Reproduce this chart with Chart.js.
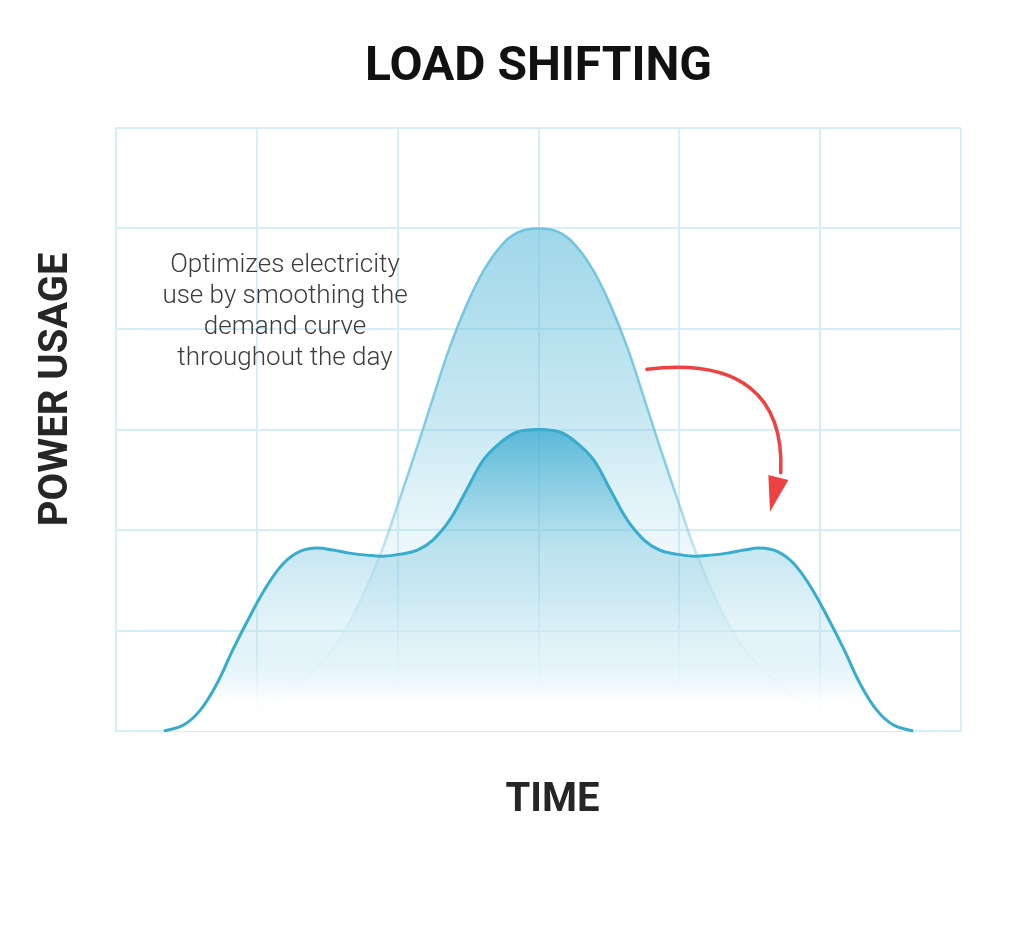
<!DOCTYPE html>
<html>
<head>
<meta charset="utf-8">
<script src="https://cdn.jsdelivr.net/npm/chart.js@4.4.1/dist/chart.umd.min.js"></script>
<style>
  html, body { margin: 0; padding: 0; background: #ffffff; }
  #wrap { width: 1024px; height: 932px; position: relative; }
  canvas { display: block; }
</style>
</head>
<body>
<div id="wrap"><canvas id="chart" width="1024" height="932"></canvas></div>
<script>
// ---------------- DATA ----------------
const titleText = 'LOAD SHIFTING';
const xAxisLabel = 'TIME';
const yAxisLabel = 'POWER USAGE';

// Time positions (grid units, 0..6) and power usage (grid units, 0..6)
const timeBefore = [0.35, 0.79, 1.14, 1.43, 1.64, 1.86, 2.00, 2.16, 2.25, 2.37, 2.49, 2.61, 2.73, 2.85, 3.00,
                    3.15, 3.27, 3.39, 3.51, 3.63, 3.75, 3.84, 4.00, 4.14, 4.36, 4.57, 4.86, 5.21, 5.65];
const usageBefore = [0.00, 0.08, 0.31, 0.64, 1.04, 1.70, 2.25, 2.92, 3.31, 3.82, 4.24, 4.58, 4.82, 4.96, 5.00,
                     4.96, 4.82, 4.58, 4.24, 3.82, 3.31, 2.92, 2.25, 1.70, 1.04, 0.64, 0.31, 0.08, 0.00];

const timeAfter = [0.34, 0.48, 0.60, 0.72, 0.83, 0.95, 1.07, 1.19, 1.31, 1.43, 1.54, 1.66, 1.78, 1.90, 2.02, 2.14,
                   2.25, 2.37, 2.49, 2.61, 2.73, 2.85, 3.00,
                   3.15, 3.27, 3.39, 3.51, 3.63, 3.75, 3.86, 3.98, 4.10, 4.22, 4.34, 4.46, 4.57, 4.69, 4.81,
                   4.93, 5.05, 5.17, 5.28, 5.40, 5.52, 5.66];
const usageAfter = [0.00, 0.06, 0.21, 0.48, 0.81, 1.14, 1.44, 1.67, 1.79, 1.82, 1.80, 1.77, 1.75, 1.74, 1.76, 1.80,
                    1.90, 2.10, 2.40, 2.70, 2.87, 2.975, 3.00,
                    2.975, 2.87, 2.70, 2.40, 2.10, 1.90, 1.80, 1.76, 1.74, 1.75, 1.77, 1.80, 1.82, 1.79, 1.67,
                    1.44, 1.14, 0.81, 0.48, 0.21, 0.06, 0.00];

const gridTicks = [0, 1, 2, 3, 4, 5, 6];

const noteLines = ['Optimizes electricity', 'use by smoothing the', 'demand curve', 'throughout the day'];
const notePos = [1.20, 4.63];          // centre of first line, in data units
const arrowCurve = [[3.77, 3.60], [4.43, 3.71], [4.745, 3.34], [4.72, 2.57]];   // cubic bezier, data units
const arrowHead = [[4.632, 2.547], [4.774, 2.498], [4.644, 2.182]];            // triangle, data units

// ---------------- STYLE ----------------
const gridColor = '#d6eef5';
const darkLine = '#37accd';
const lightLine = 'rgba(112,196,222,1)';
const arrowColor = '#ee4242';

function toXY(xs, ys) { return xs.map((v, i) => ({ x: v, y: ys[i] })); }

function lightFillGrad(ctx) {
  const chart = ctx.chart;
  if (!chart.chartArea) return 'rgba(0,0,0,0)';
  const y = chart.scales.y;
  const g = chart.ctx.createLinearGradient(0, y.getPixelForValue(5), 0, y.getPixelForValue(0));
  g.addColorStop(0, 'rgba(110,195,222,0.66)');
  g.addColorStop(0.4, 'rgba(110,195,222,0.36)');
  g.addColorStop(0.65, 'rgba(150,212,232,0.16)');
  g.addColorStop(0.85, 'rgba(255,255,255,0.6)');
  g.addColorStop(1, 'rgba(255,255,255,1)');
  return g;
}
function darkFillGrad(ctx) {
  const chart = ctx.chart;
  if (!chart.chartArea) return 'rgba(0,0,0,0)';
  const y = chart.scales.y;
  const g = chart.ctx.createLinearGradient(0, y.getPixelForValue(3), 0, y.getPixelForValue(0));
  g.addColorStop(0, 'rgba(60,170,208,0.78)');
  g.addColorStop(0.33, 'rgba(90,185,216,0.40)');
  g.addColorStop(0.67, 'rgba(170,220,236,0.30)');
  g.addColorStop(0.9, 'rgba(255,255,255,0.9)');
  g.addColorStop(1, 'rgba(255,255,255,1)');
  return g;
}
function lightLineGrad(ctx) {
  const chart = ctx.chart;
  if (!chart.chartArea) return lightLine;
  const y = chart.scales.y;
  const g = chart.ctx.createLinearGradient(0, y.getPixelForValue(5), 0, y.getPixelForValue(0));
  g.addColorStop(0, 'rgba(112,196,222,1)');
  g.addColorStop(0.5, 'rgba(112,196,222,0.8)');
  g.addColorStop(0.7, 'rgba(150,210,230,0.35)');
  g.addColorStop(1, 'rgba(220,240,247,0.0)');
  return g;
}

const overlay = {
  id: 'overlay',
  afterDatasetsDraw(chart) {
    const { ctx, chartArea, scales: { x, y } } = chart;
    ctx.save();
    // annotation
    ctx.font = '300 26px Roboto';
    ctx.fillStyle = '#3b3b3b';
    ctx.textAlign = 'center';
    ctx.textBaseline = 'middle';
    const nx = x.getPixelForValue(notePos[0]);
    const ny = y.getPixelForValue(notePos[1]);
    noteLines.forEach((t, i) => ctx.fillText(t, nx, ny + i * 31));

    // arrow
    const P = arrowCurve.map(p => [x.getPixelForValue(p[0]), y.getPixelForValue(p[1])]);
    ctx.strokeStyle = arrowColor;
    ctx.lineWidth = 3.5;
    ctx.lineCap = 'round';
    ctx.beginPath();
    ctx.moveTo(P[0][0], P[0][1]);
    ctx.bezierCurveTo(P[1][0], P[1][1], P[2][0], P[2][1], P[3][0], P[3][1]);
    ctx.stroke();
    const H = arrowHead.map(p => [x.getPixelForValue(p[0]), y.getPixelForValue(p[1])]);
    ctx.fillStyle = arrowColor;
    ctx.beginPath();
    ctx.moveTo(H[0][0], H[0][1]);
    ctx.lineTo(H[1][0], H[1][1]);
    ctx.lineTo(H[2][0], H[2][1]);
    ctx.closePath();
    ctx.fill();

    // axis labels
    ctx.fillStyle = '#262626';
    ctx.font = '700 40px Roboto';
    ctx.textAlign = 'center';
    ctx.textBaseline = 'middle';
    ctx.fillText(xAxisLabel, (chartArea.left + chartArea.right) / 2 + 14, chartArea.bottom + 70);
    ctx.translate(chartArea.left - 59, y.getPixelForValue(3.4));
    ctx.rotate(-Math.PI / 2);
    ctx.fillText(yAxisLabel, 0, 0);
    ctx.restore();
  }
};

const curveOpts = { pointRadius: 0, tension: 0.4, cubicInterpolationMode: 'default' };

new Chart(document.getElementById('chart'), {
  type: 'line',
  data: {
    datasets: [
      Object.assign({ label: 'After (line)', data: toXY(timeAfter, usageAfter), borderColor: darkLine, borderWidth: 3,
        fill: false, clip: false, order: 0 }, curveOpts),
      Object.assign({ label: 'Before (line)', data: toXY(timeBefore, usageBefore), borderColor: lightLineGrad, borderWidth: 2.5,
        fill: false, clip: false, order: 1 }, curveOpts),
      Object.assign({ label: 'After (area)', data: toXY(timeAfter, usageAfter), borderWidth: 0, borderColor: 'rgba(0,0,0,0)',
        backgroundColor: darkFillGrad, fill: 'origin', order: 2 }, curveOpts),
      Object.assign({ label: 'Before (area)', data: toXY(timeBefore, usageBefore), borderWidth: 0, borderColor: 'rgba(0,0,0,0)',
        backgroundColor: lightFillGrad, fill: 'origin', order: 3 }, curveOpts)
    ]
  },
  options: {
    responsive: false,
    devicePixelRatio: 1,
    animation: false,
    events: [],
    layout: { padding: { left: 116, right: 63, top: 0, bottom: 201 } },
    plugins: {
      legend: { display: false },
      tooltip: { enabled: false },
      title: {
        display: true,
        text: titleText,
        color: '#111111',
        font: { family: 'Roboto', size: 48, weight: '700', lineHeight: 1 },
        padding: { top: 44, bottom: 36 }
      }
    },
    scales: {
      x: {
        type: 'linear', min: 0, max: 6,
        afterBuildTicks: s => { s.ticks = gridTicks.map(v => ({ value: v })); },
        ticks: { display: false },
        grid: { color: gridColor, lineWidth: 2, drawTicks: false },
        border: { display: true, color: gridColor, width: 2 }
      },
      y: {
        type: 'linear', min: 0, max: 6,
        afterBuildTicks: s => { s.ticks = gridTicks.map(v => ({ value: v })); },
        ticks: { display: false },
        grid: { color: gridColor, lineWidth: 2, drawTicks: false },
        border: { display: true, color: gridColor, width: 2 }
      }
    }
  },
  plugins: [overlay]
});
</script>
</body>
</html>
